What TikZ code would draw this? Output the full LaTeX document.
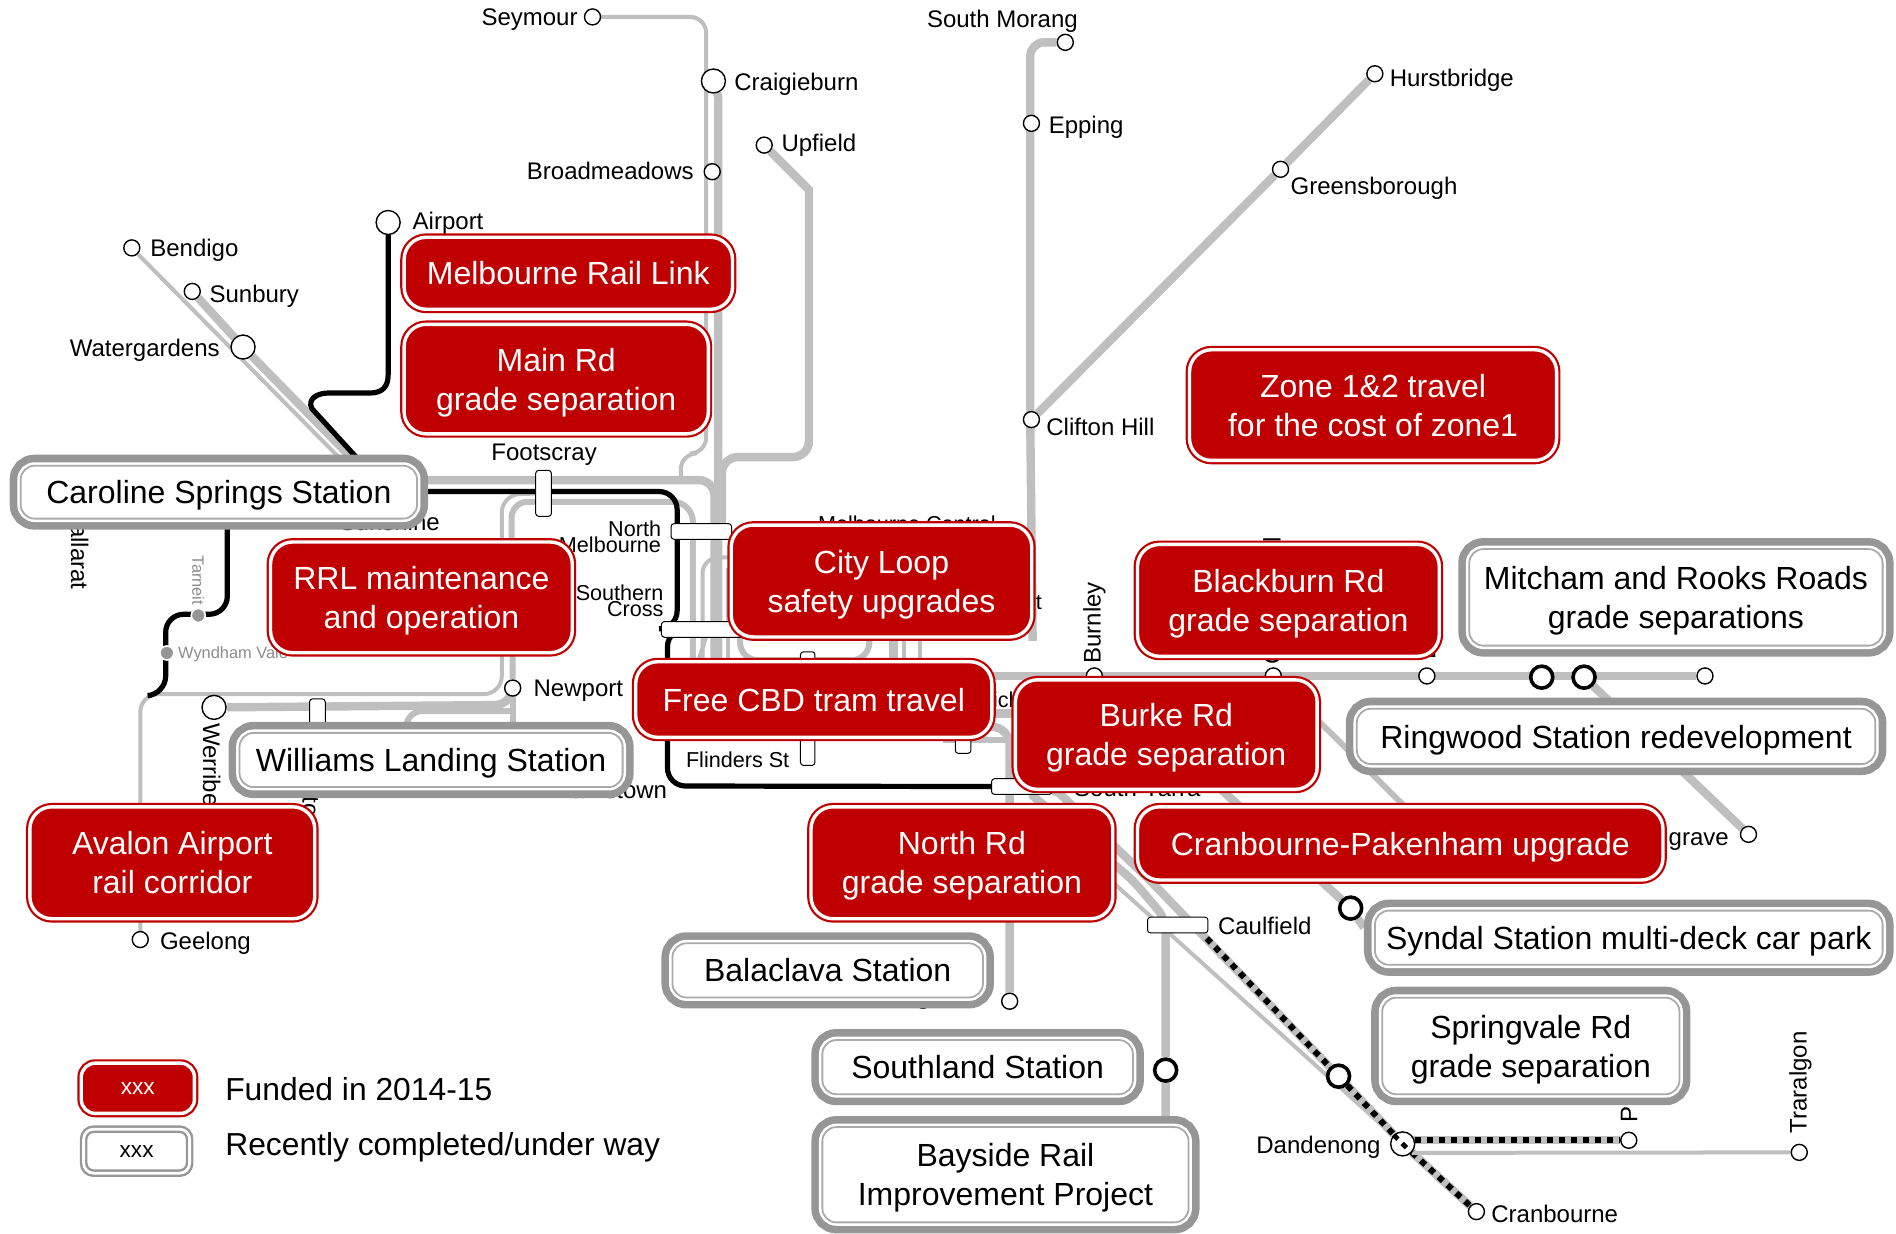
\documentclass[tikz,border=0pt]{standalone}
\usepackage{fontspec}
\setmainfont{Liberation Sans}
\usetikzlibrary{positioning}
\definecolor{projred}{RGB}{192, 0, 0}
\definecolor{railgrey}{RGB}{191, 191, 191}
\definecolor{boxgrey}{RGB}{150, 150, 150}
\definecolor{boxthin}{RGB}{170, 170, 170}
\definecolor{faintgrey}{RGB}{140, 140, 140}
\pgfdeclarelayer{rail}
\pgfsetlayers{rail,main}
\tikzset{
  thinrail/.style={railgrey, line width=2pt},
  midrail/.style={railgrey, line width=3pt},
  thickrail/.style={railgrey, line width=4.2pt},
  blackrail/.style={black, line width=2.6pt},
  dashrail/.style={black, line width=3pt, dash pattern=on 3pt off 3pt},
  stn/.style={circle, draw=black, fill=white, line width=0.7pt, inner sep=0pt, minimum size=8pt},
  bigstn/.style={stn, minimum size=12pt},
  boldstn/.style={stn, line width=1.8pt, minimum size=11pt},
  dotstn/.style={circle, draw=white, fill=boxgrey, line width=0.8pt, inner sep=0pt, minimum size=7pt},
  bar/.style 2 args={rectangle, rounded corners=1.5pt, draw=black, fill=white, line width=0.5pt, inner sep=0pt, minimum width=#1*0.6046pt, minimum height=#2*0.6046pt},
  lbl/.style={font=\fontsize{12}{12}\selectfont, inner sep=0pt, align=center, yshift=-1.2pt},
  rotlbl/.style={font=\fontsize{12}{12}\selectfont, inner sep=0pt},
  smalllbl/.style={font=\fontsize{10.8}{8}\selectfont, inner sep=0pt, align=right},
  faintlbl/.style={font=\fontsize{8.2}{8}\selectfont, text=faintgrey, inner sep=0pt},
  redbox/.style 2 args={rectangle, draw=projred, fill=projred, double=white, double distance=1.7pt, line width=1.1pt, rounded corners=11pt,
    text=white, align=center, inner sep=0pt, font=\fontsize{16}{19.5}\selectfont, text depth=-1.2pt,
    minimum width=#1*0.6046pt-3.9pt, minimum height=#2*0.6046pt-3.9pt},
  greybox/.style 2 args={rectangle, preaction={draw=boxgrey, line width=11pt}, preaction={draw=white, line width=3.4pt}, preaction={fill=white},
    draw=boxthin, line width=0.9pt, rounded corners=7pt, text=black, align=center, inner sep=0pt, font=\fontsize{16}{19.5}\selectfont, text depth=-1pt,
    minimum width=#1*0.6046pt-11pt, minimum height=#2*0.6046pt-11pt},
}
\begin{document}
\begin{tikzpicture}[x=0.6046pt, y=-0.6046pt]
  \useasboundingbox (0,0) rectangle (1568,1019.8);
  % Stations
  \node[stn]     (seymour)       at (490,14)    {};
  \node[bigstn]  (craigieburn)   at (590,67)    {};
  \node[stn]     (broadmeadows)  at (589,142)   {};
  \node[stn]     (upfield)       at (632,120)   {};
  \node[bigstn]  (airport)       at (321,184)   {};
  \node[stn]     (bendigo)       at (109,205)   {};
  \node[stn]     (sunbury)       at (159,241)   {};
  \node[bigstn]  (watergardens)  at (201,287)   {};
  \node[stn]     (southmorang)   at (881,35)    {};
  \node[stn]     (epping)        at (853,102)   {};
  \node[stn]     (hurstbridge)   at (1137,61)   {};
  \node[stn]     (greensborough) at (1059,140)  {};
  \node[stn]     (cliftonhill)   at (853,347)   {};
  \node[stn]     (newport)       at (424,569)   {};
  \node[bigstn]  (werribee)      at (177,585)   {};
  \node[stn]     (geelong)       at (116,777)   {};
  \node[stn]     (burnley)       at (905,559)   {};
  \node[stn]     (camberwell)    at (1053,559)  {};
  \node[stn]     (boxhill)       at (1180,559)  {};
  \node[boldstn] (mitcham)       at (1275,560)  {};
  \node[boldstn] (ringwood)      at (1310,560)  {};
  \node[stn]     (lilydale)      at (1410,559)  {};
  \node[stn]     (belgrave)      at (1446,690)  {};
  \node[boldstn] (syndal)        at (1117,751)  {};
  \node[stn]     (sandringham)   at (835,828)   {};
  \node[boldstn] (southland)     at (964,885)   {};
  \node[boldstn] (springvale)    at (1107,890)  {};
  \node[bigstn]  (dandenong)     at (1160,946)  {};
  \node[stn]     (cranbourne)    at (1221,1002) {};
  \node[stn]     (pakenham)      at (1347,943)  {};
  \node[stn]     (traralgon)     at (1488,953)  {};
  \node[dotstn]  (tarneit)       at (164,509)   {};
  \node[dotstn]  (wyndhamvale)   at (138,540)   {};
  % Interchange bars
  \node[bar={13}{38}] (footscray)    at (449.5,408)  {};
  \node[bar={50}{13}] (northmelb)    at (580,439.5)  {};
  \node[bar={78}{13}] (southerncross) at (586,520.5) {};
  \node[bar={12}{94}] (flinders)     at (668,586)    {};
  \node[bar={13}{34}] (richmond)     at (796.5,606)  {};
  \node[bar={50}{13}] (southyarra)   at (845,650.5)  {};
  \node[bar={50}{13}] (caulfield)    at (974,765)    {};
  \node[bar={13}{24}] (laverton)     at (262.5,590)  {};
  % Free line ends, all under the boxes
  \coordinate (endBendigo)   at (282,380);
  \coordinate (endSunbury)   at (297,385);
  \coordinate (endAirport)   at (300,384);
  \coordinate (startBlack)   at (340,406.5);
  \coordinate (startTrunk)   at (340,397);
  \coordinate (endTrunk)     at (591,560);
  \coordinate (endCraigie)   at (594,605);
  \coordinate (endUpfield)   at (597,440);
  \coordinate (endSeymour)   at (563,400);
  \coordinate (endClifton)   at (854,530);
  \coordinate (footSouth)    at (449,415);
  \coordinate (endWilliams)  at (424,602);
  \coordinate (startLoop)    at (620,461);
  \coordinate (endLoop)      at (581,560);
  \coordinate (startPoint)   at (612,500);
  \coordinate (endPoint)     at (719,500);
  \coordinate (eastStart)    at (800,559);
  \coordinate (endAlamein)   at (1190,695);
  \coordinate (endGlen)      at (1128,767);
  \coordinate (endFrank)     at (964,930);
  \coordinate (dashStart)    at (998,776);
  \coordinate (startRrl)     at (188,435);
  \coordinate (endRrl)       at (125,575);
  \coordinate (loopWest)     at (336,602);
  \coordinate (loopEast)     at (422,588);
  % Labels, the boxes go over some of them
  \node[lbl, anchor=east]  (lblSeymour)  at (478,14)   {Seymour};
  \node[lbl, anchor=west]  (lblCraigie)  at (607,68)   {Craigieburn};
  \node[lbl, anchor=east]  (lblBroad)    at (574,139)  {Broadmeadows};
  \node[lbl, anchor=west]  (lblUpfield)  at (646,118)  {Upfield};
  \node[lbl, anchor=west]  (lblAirport)  at (341,183)  {Airport};
  \node[lbl, anchor=west]  (lblBendigo)  at (124,205)  {Bendigo};
  \node[lbl, anchor=west]  (lblSunbury)  at (173,243)  {Sunbury};
  \node[lbl, anchor=east]  (lblWater)    at (182,288)  {Watergardens};
  \node[lbl]               (lblFoot)     at (450,374)  {Footscray};
  \node[lbl, anchor=east]  (lblSunshine) at (364,430)  {Sunshine};
  \node[rotlbl, rotate=-90] (lblBallarat) at (66,454)   {Ballarat};
  \node[faintlbl, rotate=-90] (lblTarneit) at (164,480) {Tarneit};
  \node[faintlbl, anchor=west] (lblWyndham) at (147,541) {Wyndham Vale};
  \node[lbl, anchor=west]  (lblNewport)  at (441,569)  {Newport};
  \node[rotlbl, rotate=-90] (lblWerribee) at (175,638)  {Werribee};
  \node[rotlbl, rotate=-90] (lblLaverton) at (257,648)  {Laverton};
  \node[lbl, anchor=east]  (lblWilliams) at (552,651)  {Williamstown};
  \node[lbl, anchor=west]  (lblGeelong)  at (132,778)  {Geelong};
  \node[smalllbl, anchor=east] (lblNorthM) at (547,444) {North\\Melbourne};
  \node[smalllbl, anchor=east] (lblSouthC) at (549,497) {Southern\\Cross};
  \node[smalllbl, anchor=west] (lblFlinders) at (567,628) {Flinders St};
  \node[smalllbl]              (lblCentral)  at (750,433) {Melbourne Central};
  \node[smalllbl, anchor=east] (lblParl)     at (862,498) {Parliament};
  \node[smalllbl, anchor=west] (lblRichmond) at (808,579) {Richmond};
  \node[lbl, anchor=west]  (lblSYarra)   at (888,650)  {South Yarra};
  \node[rotlbl, rotate=90] (lblBurnley)  at (905,515)  {Burnley};
  \node[lbl]               (lblMorang)   at (829,16)   {South Morang};
  \node[lbl, anchor=west]  (lblEpping)   at (867,103)  {Epping};
  \node[lbl, anchor=west]  (lblHurst)    at (1149,64)  {Hurstbridge};
  \node[lbl, anchor=west]  (lblGreens)   at (1067,154) {Greensborough};
  \node[lbl, anchor=west]  (lblClifton)  at (865,351)  {Clifton Hill};
  \node[rotlbl, rotate=90] (lblCamber)   at (1052,497) {Camberwell};
  \node[rotlbl, rotate=90] (lblBoxHill)  at (1180,512) {Box Hill};
  \node[rotlbl, rotate=90] (lblPakenham) at (1347,881) {Pakenham};
  \node[rotlbl, rotate=90] (lblTraralgon) at (1489,895) {Traralgon};
  \node[lbl, anchor=west]  (lblCaulfield) at (1007,764) {Caulfield};
  \node[lbl, anchor=east]  (lblDandenong) at (1142,947) {Dandenong};
  \node[lbl, anchor=west]  (lblCranb)    at (1233,1002) {Cranbourne};
  \node[lbl, anchor=east]  (lblBelgrave) at (1430,692) {Belgrave};
  \node[lbl, anchor=east]  (lblSandring) at (808,824)  {Sandringham};
  % Funded boxes
  \node[redbox={278}{66}, text depth=-1.2pt]  (railLink)   at (470,226)     {Melbourne Rail Link};
  \node[redbox={258}{97}, text depth=-2pt]    (mainRd)     at (460,313.5)   {Main Rd\\grade separation};
  \node[redbox={310}{98}, text depth=-3pt]    (zoneTravel) at (1135.5,335)  {Zone 1\&2 travel\\for the cost of zone1};
  \node[redbox={256}{98}]  (rrlMaint)   at (348.5,494)   {RRL maintenance\\and operation};
  \node[redbox={255}{99}]  (cityLoop)   at (729,480.5)   {City Loop\\safety upgrades};
  \node[redbox={301}{69}, text depth=-1pt]    (freeTram)   at (673,578.5)   {Free CBD tram travel};
  \node[redbox={256}{99}, text depth=-2.4pt]  (blackburn)  at (1065.5,496.5) {Blackburn Rd\\grade separation};
  \node[redbox={256}{97}]  (burkeRd)    at (964.5,607.5) {Burke Rd\\grade separation};
  \node[redbox={256}{99}]  (northRd)    at (795.5,713.5) {North Rd\\grade separation};
  \node[redbox={441}{67}, text depth=-0.2pt]  (cranPak)    at (1158,697.5)  {Cranbourne-Pakenham upgrade};
  \node[redbox={242}{99}, text depth=-1.6pt]  (avalon)     at (142.5,713.5) {Avalon Airport\\rail corridor};
  % Under way boxes
  \node[greybox={346}{62}, text depth=-3pt]   (caroline)   at (181,407)     {Caroline Springs Station};
  \node[greybox={335}{63}, text depth=-0.2pt] (williams)   at (356.5,628.5) {Williams Landing Station};
  \node[greybox={360}{98}] (rooksRd)    at (1386,494)    {Mitcham and Rooks Roads\\grade separations};
  \node[greybox={447}{64}, text depth=-1.4pt] (ringwoodSt) at (1336.5,609)  {Ringwood Station redevelopment};
  \node[greybox={438}{63}, text depth=-0.2pt] (syndalPark) at (1347,775.5)  {Syndal Station multi-deck car park};
  \node[greybox={275}{63}, text depth=-1.6pt] (balaclava)  at (684.5,802.5) {Balaclava Station};
  \node[greybox={275}{63}, text depth=-1pt]   (southlandSt) at (808.5,882.5) {Southland Station};
  \node[greybox={264}{98}] (springRd)   at (1266,865)    {Springvale Rd\\grade separation};
  \node[greybox={321}{97}, text depth=-2.4pt] (bayside)    at (831.5,971.5) {Bayside Rail\\Improvement Project};
  % Legend
  \node[redbox={100}{48}, rounded corners=7pt, font=\fontsize{11.3}{12}\selectfont, text depth=-2.4pt] (keyRed) at (114,900) {xxx};
  \node[rectangle, draw=boxgrey, double=white, double distance=1.4pt, line width=1.2pt, rounded corners=5pt, fill=white, inner sep=0pt,
        minimum width=53pt, minimum height=22pt, font=\fontsize{11.3}{12}\selectfont, text depth=-2.4pt] (keyGrey) at (113,952) {xxx};
  \node[anchor=west, inner sep=0pt, font=\fontsize{15.9}{16}\selectfont] (keyFunded) at (186,901) {Funded in 2014-15};
  \node[anchor=west, inner sep=0pt, font=\fontsize{15.9}{16}\selectfont] (keyRecent) at (186,949) {Recently completed/under way};
  % Dots inside Dandenong
  \draw[dashrail, line width=2.4pt] (dandenong.north west) -- (dandenong.south east);
  % Lines
  \begin{pgfonlayer}{rail}
    \draw[thinrail, rounded corners=8pt] (seymour) -- (584,14) -- (584,375) -- (563,375) -- (endSeymour);
    \draw[thickrail] (craigieburn) -- (594,80) -- (endCraigie);
    \draw[thickrail] (upfield) -- (669,157) -- (669,165) [rounded corners=8pt] -- (669,378) -- (597,378) -- (endUpfield);
    \draw[thickrail] (hurstbridge) -- (greensborough) -- (cliftonhill);
    \draw[thickrail, rounded corners=7pt] (southmorang) -- (852,35) -- (852,102) -- (852,347) -- (endClifton);
    \draw[thinrail] (bendigo) -- (endBendigo);
    \draw[thickrail] (sunbury) -- (watergardens) -- (endSunbury);
    \draw[thickrail, rounded corners=8pt] (startTrunk) -- (591,397) -- (endTrunk);
    \draw[midrail, rounded corners=8pt] (newport) -- (423,415) -- (footSouth);
    \draw[midrail, rounded corners=10pt] (footSouth) -- (573,415) -- (573,606) -- (780,606);
    \draw[thinrail, rounded corners=9pt] (geelong) -- (116,574) -- (415,574) -- (415,409) -- (footscray);
    \draw[thickrail, rounded corners=9pt] (werribee) -- (424,583) -- (newport);
    \draw[midrail] (newport) -- (endWilliams);
    \draw[midrail, rounded corners=8pt] (loopWest) -- (336,588) -- (loopEast);
    \draw[thinrail, rounded corners=8pt] (startLoop) -- (581,461) -- (endLoop);
    \draw[midrail, rounded corners=9pt] (startPoint) -- (612,546) -- (719,546) -- (endPoint);
    \draw[thinrail] (southerncross) -- (560,600);
    \draw[thinrail] (602,470) -- (602,560);
    \draw[thickrail] (739,500) -- (739,600);
    \draw[thinrail] (748,500) -- (748,600);
    \draw[thinrail] (761,500) -- (761,600);
    \draw[thickrail] (eastStart) -- (lilydale);
    \draw[thickrail] (780,590) -- (900,590);
    \draw[thickrail, rounded corners=9pt] (780,601) -- (835,601) -- (sandringham);
    \draw[midrail] (780,612) -- (850,612);
    \draw[thickrail] (ringwood) -- (belgrave);
    \draw[midrail] (camberwell) -- (endAlamein);
    \draw[thickrail] (burnley) -- (1010,653) -- (syndal) -- (endGlen);
    \draw[thinrail] (southyarra) -- (924,733) -- (dandenong);
    \draw[thickrail, rounded corners=6pt] (southyarra) -- (937,728) -- (964,760) -- (southland) -- (endFrank);
    \draw[thickrail] (southyarra) -- (875,655) -- (951,728) -- (springvale) -- (dandenong) -- (cranbourne);
    \draw[dashrail] (dashStart) -- (springvale) -- (dandenong) -- (cranbourne);
    \draw[thickrail] (dandenong |- pakenham) -- (pakenham);
    \draw[dashrail] (dandenong |- pakenham) -- (pakenham);
    \draw[thinrail] (dandenong.south east) -- (traralgon);
    % Black lines
    \draw[blackrail] (airport) -- (321,310) .. controls (321,320) and (316,325) .. (306,325) -- (272,325) .. controls (262,325) and (254,330) .. (258,338) -- (endAirport);
    \draw[blackrail, rounded corners=9pt] (startBlack) -- (560,406.5) -- (560,520) -- (552,520) -- (552,650) -- (southyarra);
    \draw[blackrail, rounded corners=9pt] (startRrl) -- (188,508) -- (137,508) -- (137,574) -- (endRrl);
  \end{pgfonlayer}
\end{tikzpicture}
\end{document}
